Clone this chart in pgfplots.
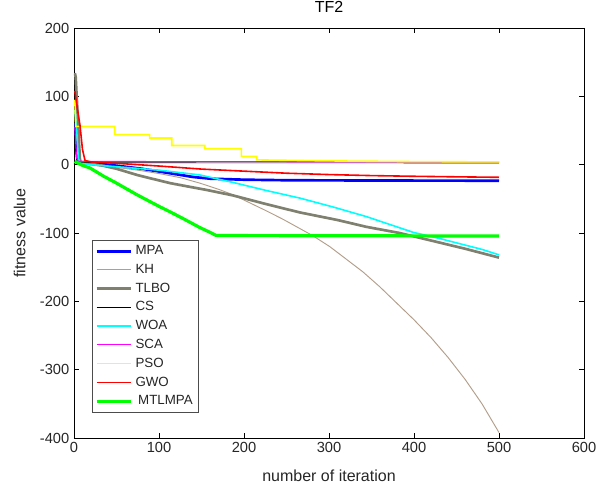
\documentclass[border=0pt]{standalone}
\usepackage{fontspec}
\setmainfont{Liberation Sans}
\usepackage{pgfplots}
\pgfplotsset{compat=1.18}
\definecolor{txtgray}{RGB}{38,38,38}
\definecolor{khtan}{RGB}{178,158,138}
\definecolor{tlbogray}{RGB}{128,128,112}
\definecolor{mblue}{RGB}{0,0,255}
\definecolor{mcyan}{RGB}{0,255,255}
\definecolor{mmagenta}{RGB}{255,0,255}
\definecolor{myellow}{RGB}{255,255,0}
\definecolor{mred}{RGB}{255,0,0}
\definecolor{mgreen}{RGB}{0,255,0}

\begin{document}
\begin{tikzpicture}
\path[use as bounding box] (-55.5pt,-40.5pt) rectangle (394.5pt,328.5pt);
\begin{axis}[
  at={(0pt,0pt)}, anchor=south west,
  scale only axis,
  width=382.5pt, height=307.5pt,
  xmin=0, xmax=600, ymin=-400, ymax=200,
  xtick={0,100,...,600},
  xticklabels={0,100,200,300,400,500,600},
  ytick={-400,-300,...,200},
  yticklabels={-400,-300,-200,-100,0,100,200},
  tick align=inside,
  major tick length=3.75pt,
  axis line style={line width=0.6pt},
  tick style={line width=0.6pt,black},
  tick label style={font=\fontsize{11}{13}\selectfont,text=txtgray},
  label style={font=\fontsize{12}{14}\selectfont,text=txtgray},
  title style={font=\fontsize{12}{14}\selectfont,text=black,at={(0.5,1)},anchor=south,yshift=2pt},
  title={TF2},
  xlabel={number of iteration},
  ylabel={fitness value},
  xlabel style={yshift=-6pt},
  ylabel style={yshift=4pt},
  legend style={at={(0.0353,0.483)},anchor=north west,draw=black!70,line width=0.5pt,
    font=\fontsize{10}{12}\selectfont,text=txtgray,inner sep=2pt,row sep=1.6pt},
  legend cell align=left,
  legend image code/.code={\draw[#1] (0pt,0pt) -- (26pt,0pt);},
]
\addplot[color=mblue,line width=2pt] coordinates {
  (1,61) (2,60) (3,20) (4,6) (5,3) (20,2) (40,0) (60,-3) (80,-6) (100,-10)
  (120,-14) (140,-18) (160,-20.5) (200,-22) (250,-22.8) (300,-23) (400,-23.3) (500,-23.5)
};
\addlegendentry{MPA}
\addplot[color=khtan,line width=0.7pt] coordinates {
  (1,80) (3,40) (6,3) (10,1) (30,-1) (50,-4) (75,-8) (100,-13) (125,-19)
  (148,-27) (170,-36) (187,-44) (207,-56) (227,-68) (246,-80) (265,-93)
  (281,-104) (301,-120) (320,-138) (340,-157) (360,-179) (380,-203)
  (400,-227) (420,-253) (440,-282) (460,-314) (480,-350) (500,-392)
};
\addlegendentry{KH}
\addplot[color=tlbogray,line width=2pt] coordinates {
  (1,134) (2,128) (4,80) (6,30) (7,8) (8,3) (20,1) (34,-1.5) (50,-6) (74,-15)
  (90,-20) (113,-27) (130,-31) (156,-37) (187,-45) (227,-58) (266,-70)
  (310,-81) (344,-91) (383,-100) (420,-111) (460,-123) (500,-136)
};
\addlegendentry{TLBO}
\addplot[color=black,line width=0.5pt] coordinates {
  (1,30) (4,3) (100,2.7) (500,2.5)
};
\addlegendentry{CS}
\addplot[color=mcyan,line width=1.2pt] coordinates {
  (1,80) (3,55) (5,10) (7,2) (20,0) (50,-3) (100,-8) (148,-15) (187,-26)
  (227,-38) (266,-49) (305,-62) (344,-76) (375,-89) (399,-99) (430,-108)
  (458,-117) (480,-124) (500,-132)
};
\addlegendentry{WOA}
\addplot[color=mmagenta,line width=0.8pt] coordinates {
  (1,55) (3,10) (5,5) (100,4.5) (500,4)
};
\addlegendentry{SCA}
\addplot[color=myellow,line width=1.2pt] coordinates {
  (1,95) (2,56) (48,56) (48,44) (89,44) (89,39) (115,39) (115,28) (154,28)
  (154,23) (197,23) (197,12) (215,12) (215,7) (300,5.5) (400,4.5) (500,4)
};
\addlegendentry{PSO}
\addplot[color=mred,line width=1.2pt] coordinates {
  (1,108) (3,90) (7,58) (10,22) (13,6) (20,4) (50,2) (100,-2) (150,-6.5)
  (200,-9.5) (250,-12.5) (300,-14.5) (350,-16) (400,-17) (450,-17.8) (500,-18.5)
};
\addlegendentry{GWO}
\addplot[color=mgreen,line width=2.4pt] coordinates {
  (1,5) (5,2) (10,-1) (19,-5) (35,-17) (50,-27) (74,-44) (100,-61) (113,-69)
  (130,-80) (148,-92) (160,-99) (167,-103.5) (200,-103.8) (300,-104) (400,-104.2) (500,-104.5)
};
\addlegendentry{\hspace{2pt}MTLMPA}
\end{axis}
\end{tikzpicture}
\end{document}
